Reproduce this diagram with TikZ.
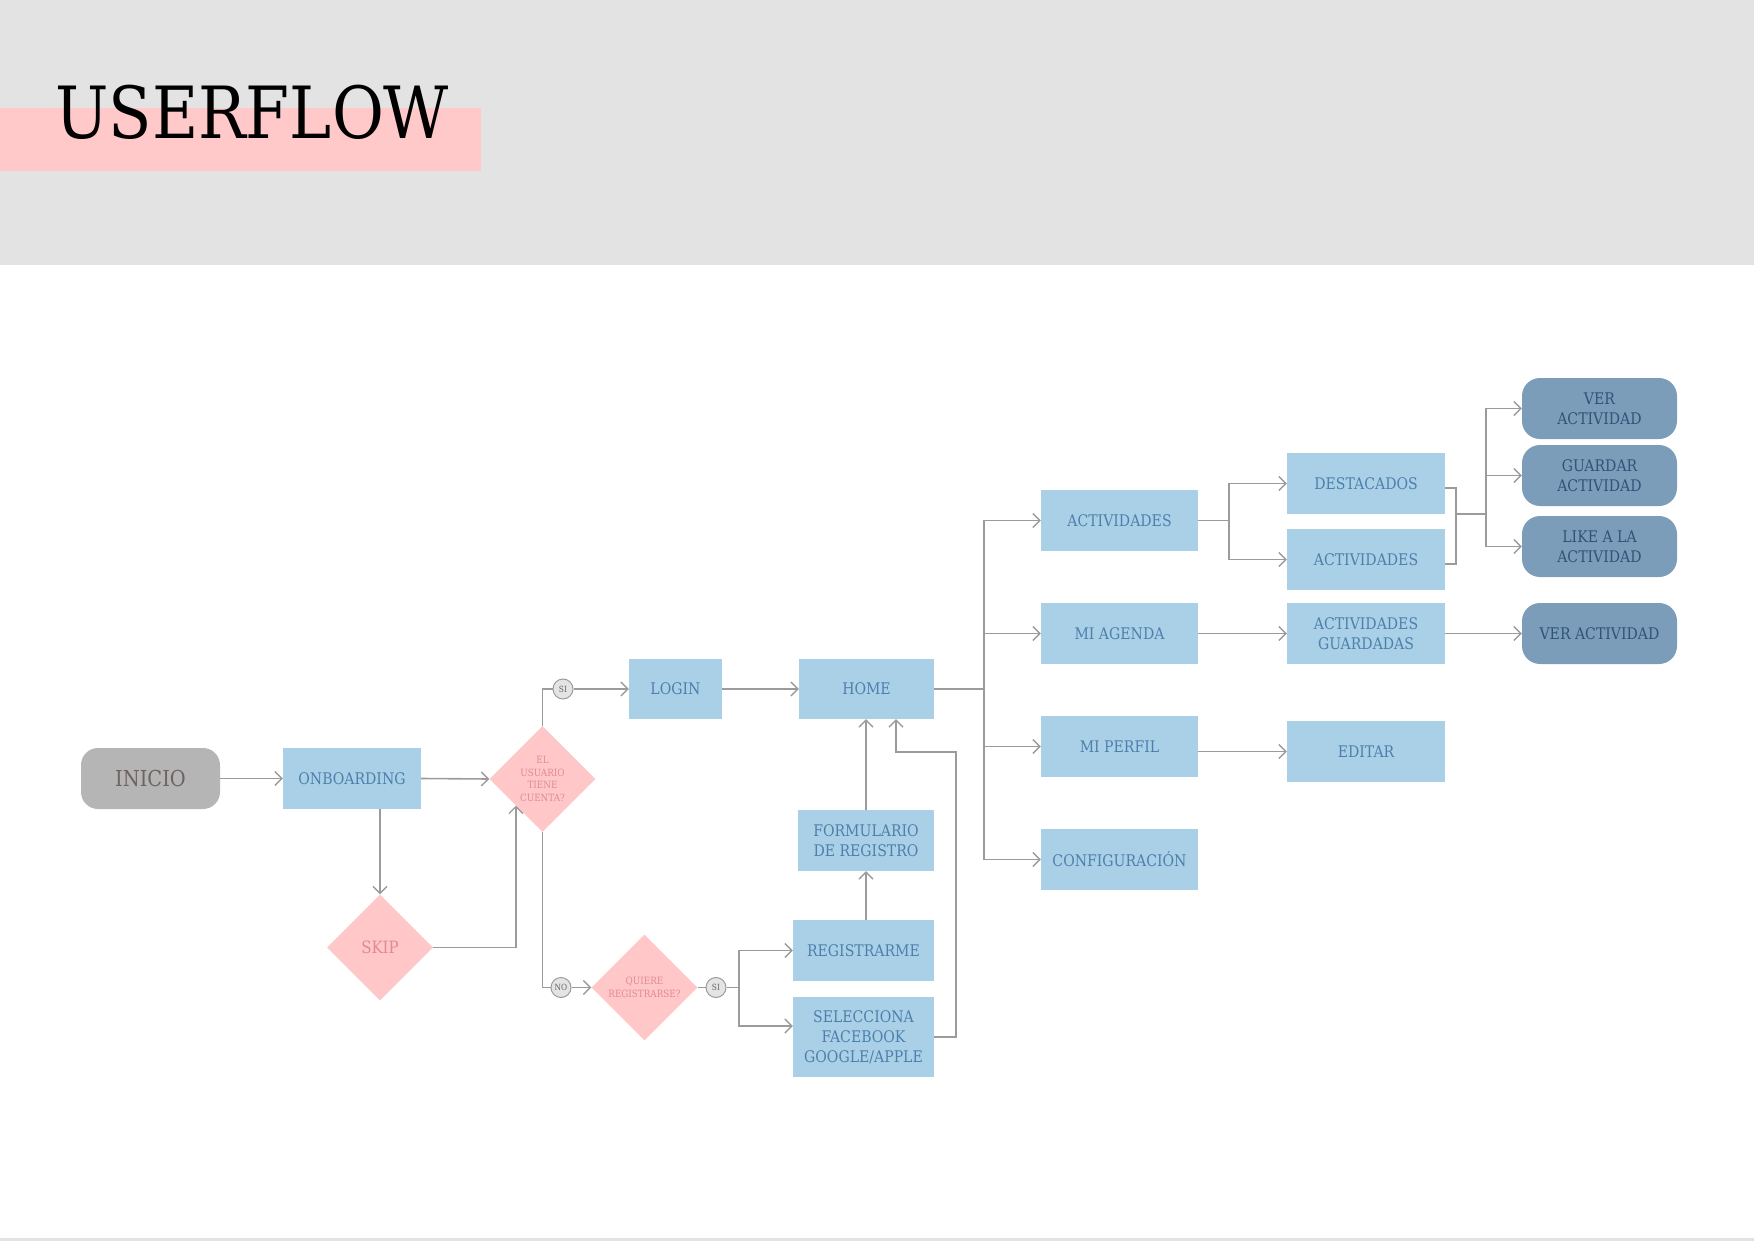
\documentclass[tikz,border=0pt]{standalone}
\usepackage{fontspec}
\usetikzlibrary{shapes.geometric,arrows.meta,calc}
\newfontfamily\slab[FakeStretch=0.88]{DejaVu Serif}
\definecolor{hdr}{HTML}{E3E3E3}
\definecolor{pinkbar}{HTML}{FFC8C9}
\definecolor{lblue}{HTML}{A9D0E6}
\definecolor{btext}{HTML}{4E7FAC}
\definecolor{dblue}{HTML}{7B9DB9}
\definecolor{dtext}{HTML}{2F5479}
\definecolor{pinkd}{HTML}{FFC7C8}
\definecolor{ptext}{HTML}{E0899A}
\definecolor{gbox}{HTML}{B5B5B5}
\definecolor{gtext}{HTML}{6F6262}
\definecolor{lne}{HTML}{9B9B9B}
\definecolor{circ}{HTML}{E4E4E4}
\begin{document}
\begin{tikzpicture}[x=1pt,y=-1pt,
  lbox/.style={rectangle,fill=lblue,text=btext,inner sep=0pt,align=center,
    font=\slab\fontsize{16}{20}\selectfont},
  dbox/.style={rectangle,rounded corners=18pt,fill=dblue,text=dtext,inner sep=0pt,align=center,
    minimum width=155pt,minimum height=61pt,font=\slab\fontsize{16}{20}\selectfont},
  dec/.style={diamond,fill=pinkd,text=ptext,inner sep=0pt,align=center,aspect=1,
    minimum width=106pt,minimum height=106pt},
  tag/.style={circle,draw=lne,fill=circ,line width=1pt,text=gray!80!black,inner sep=0pt,
    minimum size=20pt,font=\slab\fontsize{8.5}{9}\selectfont},
  ln/.style={draw=lne,line width=1.6pt},
  arr/.style={ln,-{Straight Barb[length=7pt,width=14pt,line width=1.4pt]}}
]
\useasboundingbox (0,0) rectangle (1754,1241);
% header
\fill[hdr] (0,0) rectangle (1754,265);
\fill[pinkbar] (0,108) rectangle (481,171);
\node[anchor=base west,inner sep=0pt,font=\slab\fontsize{72}{78}\selectfont,text=black] (title) at (55,139) {USERFLOW};
\fill[hdr] (0,1238) rectangle (1754,1241);

% nodes
\node[rectangle,rounded corners=17pt,fill=gbox,text=gtext,minimum width=139pt,minimum height=61pt,inner sep=0pt,
  font=\slab\fontsize{22}{24}\selectfont] (inicio) at (150.5,778.5) {INICIO};
\node[lbox,minimum width=138pt,minimum height=61pt] (onb) at (352,778.5) {ONBOARDING};
\node[dec,font=\slab\fontsize{10}{12.5}\selectfont] (user) at (542.5,779) {EL\\USUARIO\\TIENE\\CUENTA?};
\node[dec,font=\slab\fontsize{17}{20}\selectfont] (skip) at (380,947.5) {SKIP};
\node[dec,font=\slab\fontsize{10}{13}\selectfont] (quiere) at (644.5,987.5) {QUIERE\\REGISTRARSE?};
\node[tag] (si1) at (563,689) {SI};
\node[tag] (no) at (561,987.5) {NO};
\node[tag] (si2) at (716,987.5) {SI};
\node[lbox,minimum width=93pt,minimum height=60pt] (login) at (675.5,689) {LOGIN};
\node[lbox,minimum width=135pt,minimum height=60pt] (home) at (866.5,689) {HOME};
\node[lbox,minimum width=136pt,minimum height=61pt] (form) at (866,840.5) {FORMULARIO\\DE REGISTRO};
\node[lbox,minimum width=141pt,minimum height=61pt] (reg) at (863.5,950.5) {REGISTRARME};
\node[lbox,minimum width=141pt,minimum height=80pt] (sel) at (863.5,1037) {SELECCIONA\\FACEBOOK\\GOOGLE/APPLE};
\node[lbox,minimum width=157pt,minimum height=61pt] (act) at (1119.5,520.5) {ACTIVIDADES};
\node[lbox,minimum width=157pt,minimum height=61pt] (agenda) at (1119.5,633.5) {MI AGENDA};
\node[lbox,minimum width=157pt,minimum height=61pt] (perfil) at (1119.5,746.5) {MI PERFIL};
\node[lbox,minimum width=157pt,minimum height=61pt] (config) at (1119.5,859.5) {CONFIGURACIÓN};
\node[lbox,minimum width=158pt,minimum height=61pt] (dest) at (1366,483.5) {DESTACADOS};
\node[lbox,minimum width=158pt,minimum height=61pt] (act2) at (1366,559.5) {ACTIVIDADES};
\node[lbox,minimum width=158pt,minimum height=61pt] (guard) at (1366,633.5) {ACTIVIDADES\\GUARDADAS};
\node[lbox,minimum width=158pt,minimum height=61pt] (edit) at (1366,751.5) {EDITAR};
\node[dbox] (ver) at (1599.5,408.5) {VER\\ACTIVIDAD};
\node[dbox] (gact) at (1599.5,475.5) {GUARDAR\\ACTIVIDAD};
\node[dbox] (like) at (1599.5,546.5) {LIKE A LA\\ACTIVIDAD};
\node[dbox] (ver2) at (1599.5,633.5) {VER ACTIVIDAD};

% helper coordinates
\coordinate (br2) at (739,987.5);
\coordinate (ret) at (956,752);
\coordinate (bus) at (984,689);
\coordinate (b3) at (1229,520.5);
\coordinate (b4) at (1456,514);
\coordinate (b5) at (1486,514);

% connectors
\draw[arr] (inicio.east) -- (onb.west);
\draw[arr] (onb.east) -- (user.west);
\draw[arr] (skip.north |- onb.south) -- (skip.north);
\draw[arr] (skip.east) -| (user.south west);
\draw[ln] (user.north) |- (si1.west);
\draw[arr] (si1.east) -- (login.west);
\draw[ln] (user.south) |- (no.west);
\draw[arr] (no.east) -- (quiere.west);
\draw[ln] (quiere.east) -- (si2.west);
\draw[ln] (si2.east) -- (br2);
\draw[arr] (br2) |- (reg.west);
\draw[arr] (br2) |- ([yshift=11pt]sel.west);
\draw[arr] (form.south |- reg.north) -- (form.south);
\draw[arr] (form.north) -- (form.north |- home.south);
\draw[arr] (sel.east) -| (ret) -| ([xshift=29.5pt]home.south);
\draw[arr] (login.east) -- (home.west);
\draw[ln] (home.east) -- (bus);
\draw[arr] (bus) |- (act.west);
\draw[arr] (bus) |- (agenda.west);
\draw[arr] (bus) |- (perfil.west);
\draw[arr] (bus) |- (config.west);
\draw[ln] (act.east) -- (b3);
\draw[arr] (b3) |- (dest.west);
\draw[arr] (b3) |- (act2.west);
\draw[ln] ([yshift=-4.5pt]dest.east) -| (b4);
\draw[ln] ([yshift=-4.5pt]act2.east) -| (b4);
\draw[ln] (b4) -- (b5);
\draw[arr] (b5) |- (ver.west);
\draw[arr] (b5) |- (gact.west);
\draw[arr] (b5) |- (like.west);
\draw[arr] (agenda.east) -- (guard.west);
\draw[arr] (guard.east) -- (ver2.west);
\draw[arr] (perfil.east |- edit.west) -- (edit.west);
\end{tikzpicture}
\end{document}
